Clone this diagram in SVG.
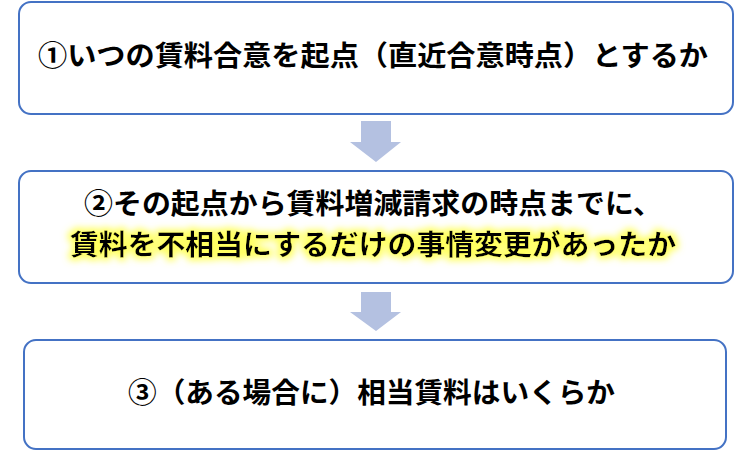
<svg xmlns="http://www.w3.org/2000/svg" width="750" height="452" viewBox="0 0 750 452">
  <defs>
    <style>
      .box { fill: #FFFFFF; stroke: #4472C4; stroke-width: 2; }
      .arrow { fill: #B4C1E1; }
      .t { font-family: "Noto Sans CJK JP", "Noto Sans", sans-serif; font-weight: 700; font-size: 28px; fill: #000000; dominant-baseline: central; }
    </style>
    <filter id="glow" x="-5%" y="-40%" width="110%" height="180%">
      <feMorphology in="SourceAlpha" operator="dilate" radius="3" result="d"/>
      <feGaussianBlur in="d" stdDeviation="3.5" result="b"/>
      <feFlood flood-color="#FFFF50" flood-opacity="0.9"/>
      <feComposite in2="b" operator="in" result="g"/>
      <feMerge>
        <feMergeNode in="g"/>
        <feMergeNode in="SourceGraphic"/>
      </feMerge>
    </filter>
  </defs>
  <rect width="750" height="452" fill="#FFFFFF"/>
  <g id="connectors">
    <path class="arrow" d="M361,121 H391 V142 H401 L376,162 L350,142 H361 Z"/>
    <path class="arrow" d="M361,292 H391 V312 H401 L376,331 L350,312 H361 Z"/>
  </g>
  <g id="node1">
    <rect class="box" x="19" y="2" width="714" height="112" rx="12"/>
    <text class="t" x="38" y="54" textLength="670" lengthAdjust="spacingAndGlyphs">①いつの賃料合意を起点（直近合意時点）とするか</text>
  </g>
  <g id="node2">
    <rect class="box" x="19" y="171" width="714" height="112" rx="12"/>
    <text class="t" x="84" y="202" textLength="578" lengthAdjust="spacingAndGlyphs">②その起点から賃料増減請求の時点までに、</text>
    <text class="t" x="70" y="243" textLength="606" lengthAdjust="spacingAndGlyphs" filter="url(#glow)">賃料を不相当にするだけの事情変更があったか</text>
  </g>
  <g id="node3">
    <rect class="box" x="24" y="340" width="702" height="109" rx="12"/>
    <text class="t" x="128" y="391" textLength="487" lengthAdjust="spacingAndGlyphs">③（ある場合に）相当賃料はいくらか</text>
  </g>
</svg>
